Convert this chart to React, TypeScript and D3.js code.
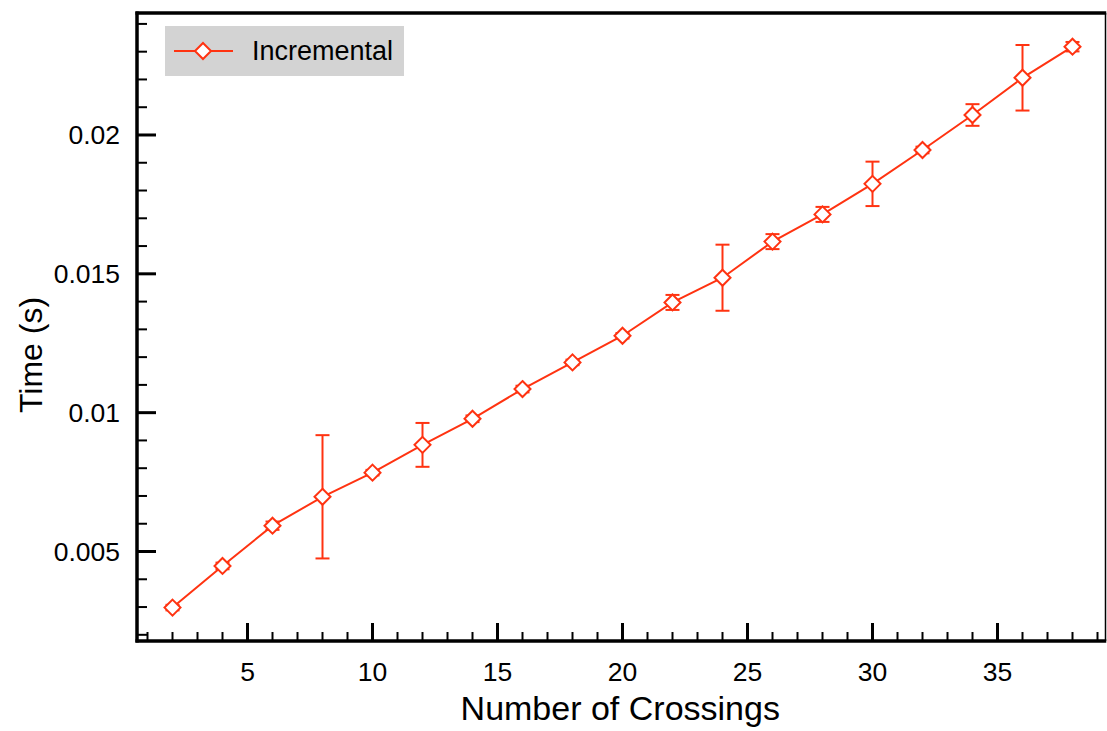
import React from "react";
import * as d3 from "d3";

// Number of crossings on the x axis
const crossings = [2, 4, 6, 8, 10, 12, 14, 16, 18, 20, 22, 24, 26, 28, 30, 32, 34, 36, 38];
// Mean run time (s) of the incremental method
const timeMean = [
  0.00298, 0.00448, 0.00593, 0.00697, 0.00784, 0.00884, 0.00978, 0.01085, 0.01181, 0.01277,
  0.01397, 0.01486, 0.01616, 0.01714, 0.01824, 0.01946, 0.02072, 0.02206, 0.02318,
];
// Half-width of the error bar (s)
const timeErr = [
  0.0001, 0.00012, 0.00015, 0.00222, 0.0001, 0.00079, 0.00012, 0.00012, 0.0001, 0.0001,
  0.00027, 0.00119, 0.00027, 0.00027, 0.0008, 0.00012, 0.00039, 0.00118, 0.00017,
];
const xMajorTicks = [5, 10, 15, 20, 25, 30, 35];
const yMajorTicks = [0.005, 0.01, 0.015, 0.02];
const yTickLabels = ["0.005", "0.01", "0.015", "0.02"];
const seriesName = "Incremental";
const xTitle = "Number of Crossings";
const yTitle = "Time (s)";

const W = 1107;
const H = 731;
const left = 137;
const right = 1105.5;
const top = 13;
const bottom = 641;
const red = "#ff3311";
const font = "'Liberation Sans', Arial, Helvetica, sans-serif";

const x = d3.scaleLinear().domain([0.58, 39.32]).range([left, right]);
const y = d3.scaleLinear().domain([0.001777, 0.024393]).range([bottom, top]);

const xMinor = d3.range(1, 40).filter((v) => v % 5 !== 0 && x(v) < right - 2);
const yMinor = d3
  .range(2, 25)
  .map((k) => k / 1000)
  .filter((v) => Math.round(v * 1000) % 5 !== 0);

const diamond = (cx: number, cy: number, r: number) =>
  `M${cx},${cy - r}L${cx + r},${cy}L${cx},${cy + r}L${cx - r},${cy}Z`;

export default function App() {
  const line = d3
    .line<number>()
    .x((_, i) => x(crossings[i]))
    .y((d) => y(d));

  return (
    <svg
      width={W}
      height={H}
      style={{ position: "absolute", left: 0, top: 0, background: "#fff" }}
      fontFamily={font}
    >
      {/* frame */}
      <line x1={right} x2={right} y1={top} y2={bottom} stroke="#000" strokeWidth={1.5} />
      <line x1={left - 1.5} x2={right + 0.75} y1={top} y2={top} stroke="#000" strokeWidth={3.5} />
      <line x1={left - 1.5} x2={right + 0.75} y1={bottom} y2={bottom} stroke="#000" strokeWidth={3.5} />
      <line x1={left} x2={left} y1={top - 1.5} y2={bottom + 1.5} stroke="#000" strokeWidth={3.5} />

      {/* x ticks */}
      {xMinor.map((v) => (
        <line key={"xm" + v} x1={x(v)} x2={x(v)} y1={bottom} y2={bottom - 9} stroke="#000" strokeWidth={2} />
      ))}
      {xMajorTicks.map((v) => (
        <g key={"xM" + v}>
          <line x1={x(v)} x2={x(v)} y1={bottom} y2={bottom - 18} stroke="#000" strokeWidth={3} />
          <text x={x(v)} y={672} dy="0.35em" textAnchor="middle" fontSize={26.5} fill="#000">
            {v}
          </text>
        </g>
      ))}

      {/* y ticks */}
      {yMinor.map((v) => (
        <line key={"ym" + v} x1={left} x2={left + 10} y1={y(v)} y2={y(v)} stroke="#000" strokeWidth={2} />
      ))}
      {yMajorTicks.map((v, i) => (
        <g key={"yM" + v}>
          <line x1={left} x2={left + 19} y1={y(v)} y2={y(v)} stroke="#000" strokeWidth={3} />
          <text x={120} y={y(v)} dy="0.35em" textAnchor="end" fontSize={26.5} fill="#000">
            {yTickLabels[i]}
          </text>
        </g>
      ))}

      {/* axis titles */}
      <text x={(left + right) / 2 - 1} y={720} textAnchor="middle" fontSize={34} fill="#000">
        {xTitle}
      </text>
      <text
        transform={`translate(42,${(top + bottom) / 2 + 28}) rotate(-90)`}
        textAnchor="middle"
        fontSize={32}
        fill="#000"
      >
        {yTitle}
      </text>

      {/* series line */}
      <path d={line(timeMean) || ""} fill="none" stroke={red} strokeWidth={2} />

      {/* error bars */}
      {timeMean.map((m, i) => {
        const cx = x(crossings[i]);
        const y1 = y(m + timeErr[i]);
        const y2 = y(m - timeErr[i]);
        return (
          <g key={"e" + i} stroke={red} strokeWidth={2}>
            <line x1={cx} x2={cx} y1={y1} y2={y2} />
            <line x1={cx - 7} x2={cx + 7} y1={y1} y2={y1} />
            <line x1={cx - 7} x2={cx + 7} y1={y2} y2={y2} />
          </g>
        );
      })}

      {/* markers */}
      {timeMean.map((m, i) => (
        <path key={"m" + i} d={diamond(x(crossings[i]), y(m), 8)} fill="#fff" stroke={red} strokeWidth={2} />
      ))}

      {/* legend */}
      <rect x={165} y={26} width={239} height={50} fill="#d3d3d3" />
      <line x1={174} x2={233} y1={51} y2={51} stroke={red} strokeWidth={2} />
      <path d={diamond(203, 51, 8)} fill="#fff" stroke={red} strokeWidth={2} />
      <text x={252} y={51} dy="0.35em" fontSize={27} fill="#000">
        {seriesName}
      </text>
    </svg>
  );
}
